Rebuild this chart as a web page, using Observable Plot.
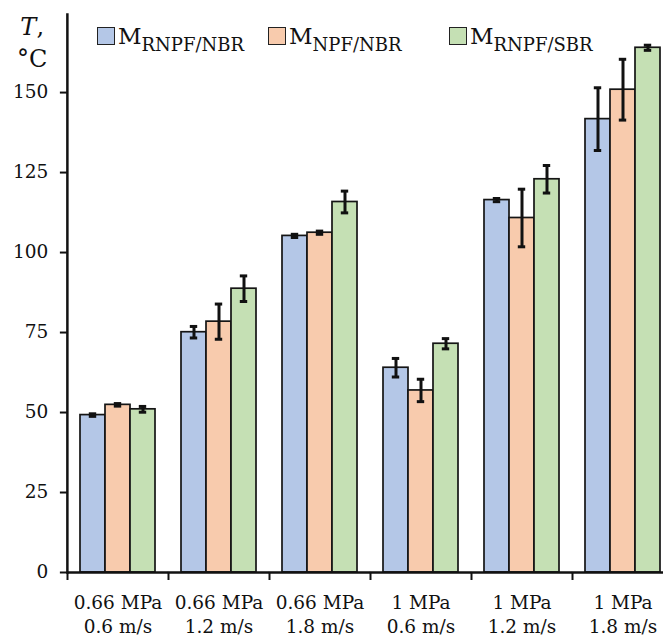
<!DOCTYPE html>
<html><head><meta charset="utf-8">
<script src="https://cdn.jsdelivr.net/npm/d3@7"></script>
<script src="https://cdn.jsdelivr.net/npm/@observablehq/plot@0.6"></script>
<style>
html,body{margin:0;padding:0;background:#fff;overflow:hidden}
#wrap{position:relative;width:663px;height:640px;overflow:hidden;font-family:"DejaVu Serif",serif;color:#111}
#wrap svg{position:absolute;left:0;top:0}
.sw{position:absolute;width:18px;height:18px;border:1.7px solid #222;box-sizing:border-box}
.lt{position:absolute;font-size:23px;line-height:1;white-space:nowrap}
.lt sub{font-size:18px;vertical-align:-7px;line-height:1}
#ylab{position:absolute;left:17px;top:11px;font-size:24px;line-height:32px;text-align:center}
</style></head>
<body><div id="wrap"></div>
<script>
// ---- data ----
const pressures = ["0.66 MPa", "0.66 MPa", "0.66 MPa", "1 MPa", "1 MPa", "1 MPa"];
const speeds = ["0.6 m/s", "1.2 m/s", "1.8 m/s", "0.6 m/s", "1.2 m/s", "1.8 m/s"];
const seriesKeys = ["RNPF/NBR", "NPF/NBR", "RNPF/SBR"];
const valRNPF_NBR = [49.2, 75.1, 105.2, 64.0, 116.4, 141.7];
const errRNPF_NBR = [0.4, 1.8, 0.5, 2.9, 0.5, 9.8];
const valNPF_NBR = [52.4, 78.4, 106.2, 56.9, 110.8, 150.9];
const errNPF_NBR = [0.4, 5.5, 0.5, 3.5, 9.0, 9.5];
const valRNPF_SBR = [51.0, 88.7, 115.8, 71.5, 122.9, 164.0];
const errRNPF_SBR = [0.9, 4.0, 3.4, 1.6, 4.3, 0.8];
const yTicks = [0, 25, 50, 75, 100, 125, 150];
const colors = ["#b4c7e7", "#f8cbad", "#c5e0b4"];

const cats = pressures.map((p, i) => p + "\n" + speeds[i]);
const values = [valRNPF_NBR, valNPF_NBR, valRNPF_SBR];
const errors = [errRNPF_NBR, errNPF_NBR, errRNPF_SBR];
const data = [];
cats.forEach((c, i) => seriesKeys.forEach((s, k) => data.push({cat: c, series: s, value: values[k][i], err: errors[k][i]})));

const ink = "#111";
const plot = Plot.plot({
  width: 663, height: 640,
  marginTop: 14, marginBottom: 68, marginLeft: 67, marginRight: 0,
  style: {fontFamily: "DejaVu Serif, serif", fontSize: "18.5px", color: ink, background: "transparent", overflow: "visible"},
  fx: {domain: cats, range: [67, 673], paddingInner: 0.24, paddingOuter: 0.12, label: null},
  x: {domain: seriesKeys, padding: 0, axis: null},
  y: {domain: [0, 174.4], label: null},
  color: {domain: seriesKeys, range: colors},
  marks: [
    Plot.barY(data, {fx: "cat", x: "series", y: "value", fill: "series", stroke: "#151515", strokeWidth: 1.7}),
    Plot.ruleX(data, {fx: "cat", x: "series", y1: d => d.value - d.err, y2: d => d.value + d.err, stroke: ink, strokeWidth: 3}),
    Plot.tickY(data, {fx: "cat", x: "series", y: d => d.value - d.err, stroke: ink, strokeWidth: 3, insetLeft: 8.8, insetRight: 8.8}),
    Plot.tickY(data, {fx: "cat", x: "series", y: d => d.value + d.err, stroke: ink, strokeWidth: 3, insetLeft: 8.8, insetRight: 8.8}),
    Plot.ruleY([0], {stroke: ink, strokeWidth: 2.5, insetLeft: -12.12, insetRight: -12.12}),
    Plot.frame({anchor: "left", facetAnchor: "left", dx: -12.12, stroke: ink, strokeWidth: 2.5}),
    Plot.axisY({ticks: yTicks, tickSize: 7, tickPadding: 12, dx: -12.12, strokeWidth: 2, fontSize: 18.5, label: null}),
    Plot.axisFx({anchor: "bottom", tickSize: 8, tickFormat: () => "", dx: -50.5, strokeWidth: 2, label: null}),
    Plot.axisFx({anchor: "bottom", tickSize: 0, tickPadding: 19, lineHeight: 1.3, fontSize: 18.5, label: null})
  ]
});
const wrap = document.getElementById("wrap");
wrap.appendChild(plot);

// legend overlay (subscripts need HTML)
const col = plot.scale("color");
const legPos = [97, 268, 449];
seriesKeys.forEach((s, k) => {
  const sw = document.createElement("span");
  sw.className = "sw";
  sw.style.left = legPos[k] + "px";
  sw.style.top = "27px";
  sw.style.background = col.apply(s);
  const t = document.createElement("span");
  t.className = "lt";
  t.style.left = (legPos[k] + 21) + "px";
  t.style.top = "25px";
  t.innerHTML = "M<sub>" + s + "</sub>";
  wrap.appendChild(sw); wrap.appendChild(t);
});
const yl = document.createElement("div");
yl.id = "ylab";
yl.innerHTML = "<i>T</i>,<br>°C";
wrap.appendChild(yl);
</script></body></html>
